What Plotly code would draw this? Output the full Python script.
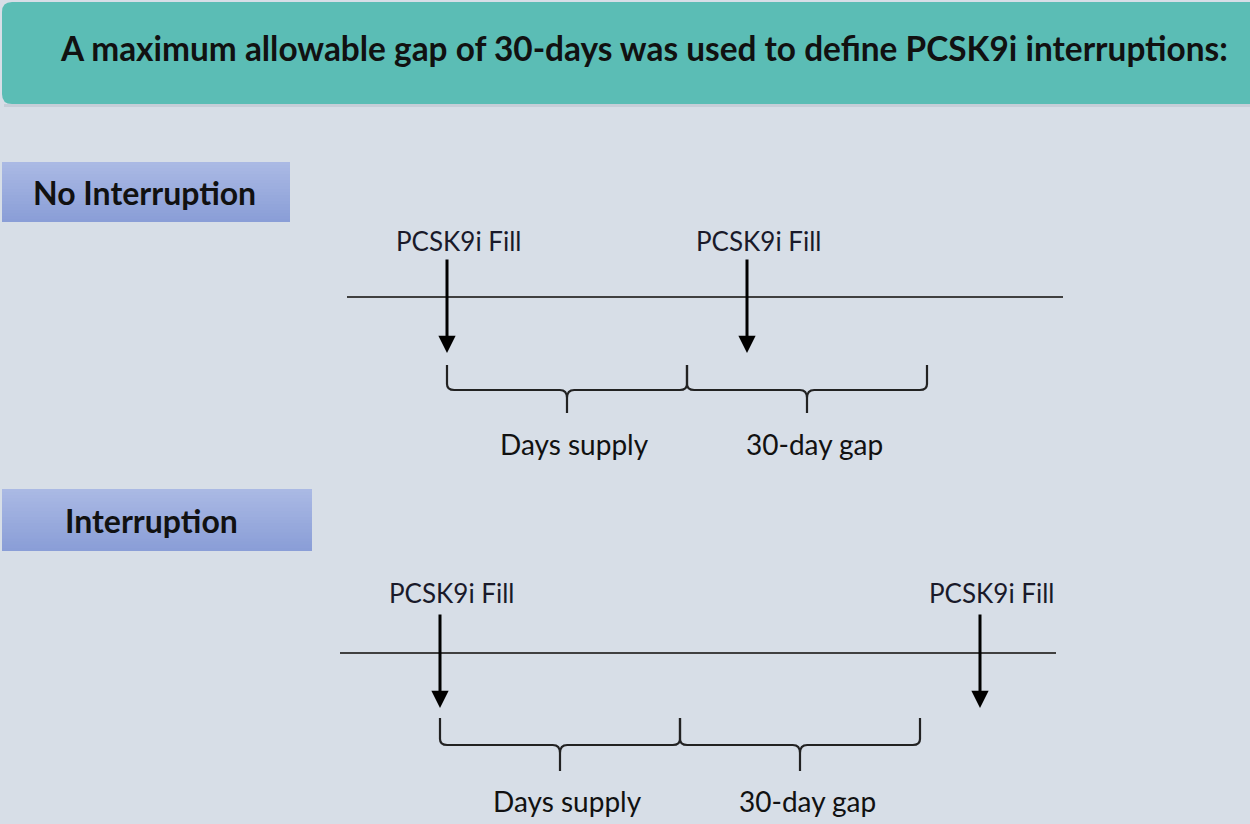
import plotly.graph_objects as go

# ---------------- data ----------------
title_text = "A maximum allowable gap of 30-days was used to define PCSK9i interruptions:"
row_labels = ["No Interruption", "Interruption"]
fill_label = "PCSK9i Fill"
segment_labels = ["Days supply", "30-day gap"]
days_supply = 30
gap_days = 30
second_fill_day = [37.5, 67.5]     # day of the second fill, per row
first_fill_day = [0, 0]
timeline_span = [-12.5, 77.0]      # days covered by the drawn time line

# ---------------- layout helpers (pixels) ----------------
W, H = 1250, 824
PX_PER_DAY = 8.0
row_origin_px = [447, 440]          # pixel x of day 0 for each row
row_y = [
    dict(label_y=241, arrow_top=258, line=297, arrow_tip=353, b_top=365, b_mid=390, b_tip=413, seg_y=444,
         box=(2, 162, 290, 222), box_text_x=144),
    dict(label_y=593, arrow_top=613, line=653, arrow_tip=708, b_top=718, b_mid=745, b_tip=771, seg_y=801,
         box=(2, 489, 312, 551), box_text_x=151),
]
BG = "#d7dee7"
TEAL = "#5bbdb5"
FONT = "Lato, 'Open Sans', sans-serif"

fig = go.Figure()
shapes = []
annotations = []

def px(xp):
    return xp / W

def py(yp):
    return 1 - yp / H

# header
shapes.append(dict(type="path", xref="paper", yref="paper",
                   path=f"M {px(12)},{py(2)} L {px(1252)},{py(2)} L {px(1252)},{py(104)} L {px(12)},{py(104)} "
                        f"Q {px(2)},{py(104)} {px(2)},{py(94)} L {px(2)},{py(12)} Q {px(2)},{py(2)} {px(12)},{py(2)} Z",
                   fillcolor=TEAL, line=dict(width=0), layer="below"))
shapes.append(dict(type="rect", xref="paper", yref="paper", x0=px(4), x1=px(1252), y0=py(104), y1=py(107),
                   fillcolor="#c6ced8", line=dict(width=0), layer="below"))
annotations.append(dict(text=f"<b>{title_text}</b>", xref="paper", yref="paper", x=px(644), y=py(48),
                        showarrow=False, font=dict(family=FONT, size=33.4, color="#111111"),
                        xanchor="center", yanchor="middle"))

axes_names = ["x", "x2"]
for i in range(2):
    r = row_y[i]
    xa = axes_names[i]
    # label box with vertical gradient
    bx0, by0, bx1, by1 = r["box"]
    n = 20
    c_top = (170, 185, 228)
    c_bot = (138, 158, 215)
    for k in range(n):
        t = k / (n - 1)
        c = tuple(int(round(c_top[j] + (c_bot[j] - c_top[j]) * t)) for j in range(3))
        y0 = by0 + (by1 - by0) * k / n
        y1 = min(by1, by0 + (by1 - by0) * (k + 1) / n + 1.0)
        shapes.append(dict(type="rect", xref="paper", yref="paper", x0=px(bx0), x1=px(bx1),
                           y0=py(y0), y1=py(y1), fillcolor=f"rgb{c}", line=dict(width=0), layer="below"))
    annotations.append(dict(text=f"<b>{row_labels[i]}</b>", xref="paper", yref="paper",
                            x=px(r["box_text_x"]), y=py((by0 + by1) / 2),
                            showarrow=False, font=dict(family=FONT, size=32, color="#111111"),
                            xanchor="center", yanchor="middle"))
    # time line
    fig.add_trace(go.Scatter(x=timeline_span, y=[r["line"], r["line"]], mode="lines",
                             line=dict(color="#404040", width=2.2), xaxis=xa, yaxis="y",
                             hoverinfo="skip", showlegend=False))
    # fills (arrows + labels)
    for d in [first_fill_day[i], second_fill_day[i]]:
        annotations.append(dict(x=d, y=r["arrow_tip"], ax=d, ay=r["arrow_top"], xref=xa, yref="y",
                                axref=xa, ayref="y", showarrow=True, arrowhead=2, arrowsize=1.15,
                                arrowwidth=3, arrowcolor="#000000", text=""))
        annotations.append(dict(x=d, y=r["label_y"], xref=xa, yref="y", text=fill_label, showarrow=False,
                                xshift=11, font=dict(family=FONT, size=26, color="#1a1a2a"),
                                xanchor="center", yanchor="middle"))
    # braces
    seg_bounds = [(first_fill_day[i], first_fill_day[i] + days_supply),
                  (first_fill_day[i] + days_supply, first_fill_day[i] + days_supply + gap_days)]
    for s, (a, b) in enumerate(seg_bounds):
        c = (a + b) / 2
        rr = 0.9
        top, mid, tip = r["b_top"], r["b_mid"], r["b_tip"]
        path = (f"M {a},{top} L {a},{mid - 6} Q {a},{mid} {a + rr},{mid} L {c - rr},{mid} "
                f"Q {c},{mid} {c},{mid + 8} L {c},{tip} M {c},{mid + 8} Q {c},{mid} {c + rr},{mid} "
                f"L {b - rr},{mid} Q {b},{mid} {b},{mid - 6} L {b},{top}")
        shapes.append(dict(type="path", xref=xa, yref="y", path=path,
                           line=dict(color="#222222", width=2.2)))
        annotations.append(dict(x=c, y=r["seg_y"], xref=xa, yref="y", text=segment_labels[s],
                                showarrow=False, xshift=7, font=dict(family=FONT, size=28, color="#111111"),
                                xanchor="center", yanchor="middle"))

def x_range(origin):
    return [(0 - origin) / PX_PER_DAY, (W - origin) / PX_PER_DAY]

fig.update_layout(
    width=W, height=H, margin=dict(l=0, r=0, t=0, b=0),
    paper_bgcolor=BG, plot_bgcolor=BG,
    xaxis=dict(range=x_range(row_origin_px[0]), visible=False, domain=[0, 1]),
    xaxis2=dict(range=x_range(row_origin_px[1]), visible=False, overlaying="x", domain=[0, 1]),
    yaxis=dict(range=[H, 0], visible=False, domain=[0, 1]),
    shapes=shapes, annotations=annotations, showlegend=False,
)

fig.write_html("out.html", config=dict(displayModeBar=False),
               post_script=f"document.body.style.margin='0';document.body.style.background='{BG}';")
